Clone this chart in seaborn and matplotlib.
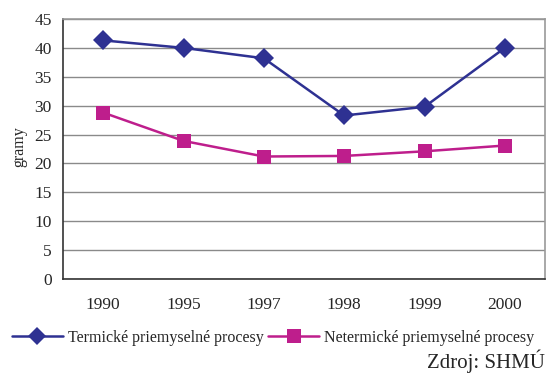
import matplotlib
matplotlib.use("Agg")
import matplotlib.pyplot as plt
import seaborn as sns
import pandas as pd
from matplotlib.lines import Line2D

years = ["1990", "1995", "1997", "1998", "1999", "2000"]
termicke = [41.3, 40.0, 38.2, 28.3, 29.8, 40.0]
netermicke = [28.8, 23.9, 21.2, 21.3, 22.1, 23.1]
series_names = ["Termické priemyselné procesy", "Netermické priemyselné procesy"]
y_ticks = [0, 5, 10, 15, 20, 25, 30, 35, 40, 45]

sns.set_style("white")
plt.rcParams['font.family'] = ['Liberation Serif', 'DejaVu Serif']

df = pd.DataFrame({
    "x": list(range(len(years))) * 2,
    "value": termicke + netermicke,
    "series": [series_names[0]] * len(years) + [series_names[1]] * len(years),
})

colors = {series_names[0]: "#2E3192", series_names[1]: "#BE1E8C"}
markers = {series_names[0]: "D", series_names[1]: "s"}

fig = plt.figure(figsize=(5.46, 3.74), dpi=100)
ax = fig.add_axes([63/546, 1-279/374, (545-63)/546, (279-19)/374])

sns.lineplot(data=df, x="x", y="value", hue="series", style="series",
             palette=colors, markers=markers, dashes=False, ax=ax,
             linewidth=1.8, markersize=10, markeredgewidth=0, legend=False)

ax.set_xlim(-0.5, len(years) - 0.5)
ax.set_ylim(0, 45)
ax.set_yticks(y_ticks)
ax.set_yticklabels([str(t) for t in y_ticks], fontsize=12.5)
ax.set_xticks(range(len(years)))
ax.set_xticklabels(years, fontsize=12.5)
ax.set_xticks([i - 0.5 for i in range(len(years))], minor=True)
ax.tick_params(axis='x', which='major', length=0, pad=13)
ax.tick_params(axis='x', which='minor', length=5, width=1, color="#333333", direction='out')
ax.tick_params(axis='y', which='major', length=5, width=1, color="#333333", direction='out', pad=3)
ax.set_xlabel("")
ax.set_ylabel("")
fig.text(19/546, 1-147/374, "gramy", rotation=90, ha="center", va="center", fontsize=11.5)

ax.grid(axis='y', color="#8a8a8a", linewidth=1)
ax.set_axisbelow(True)
for s in ["top", "right"]:
    ax.spines[s].set_color("#999999")
    ax.spines[s].set_linewidth(1.2)
for s in ["left", "bottom"]:
    ax.spines[s].set_color("#333333")
    ax.spines[s].set_linewidth(1.2)

handles = [Line2D([0], [0], color=colors[n], marker=markers[n], markersize=10 if markers[n] == "s" else 9,
                  linewidth=1.8, markeredgewidth=0) for n in series_names]
fig.legend(handles, series_names, loc="center", bbox_to_anchor=(0.5, 1-338/374), ncol=2,
           frameon=False, fontsize=11.5, handlelength=3.2, columnspacing=0.3, handletextpad=0.3)

fig.text(545/546, 1-361/374, "Zdroj: SHMÚ", ha="right", va="center", fontsize=15)

fig.savefig("out.png", dpi=100)
